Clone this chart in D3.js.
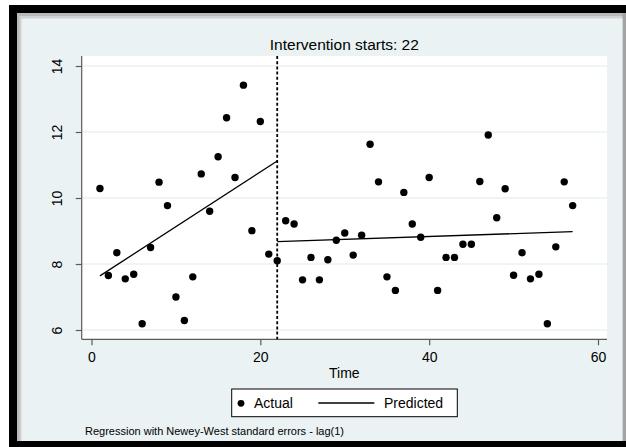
<!DOCTYPE html>
<html>
<head>
<meta charset="utf-8">
<script src="https://cdn.jsdelivr.net/npm/d3@7"></script>
<style>
  html, body { margin: 0; padding: 0; background: #ffffff; }
  svg { display: block; font-family: "Liberation Sans", Arial, Helvetica, sans-serif; }
</style>
</head>
<body>
<svg id="chart" width="626" height="447"></svg>
<script>
// Observed outcome by time period
const times = d3.range(1, 58);
const actual = [
  10.29, 7.65, 8.34, 7.55, 7.69, 6.19, 8.50, 10.48, 9.77, 7.00,
  6.29, 7.61, 10.73, 9.60, 11.25, 12.43, 10.62, 13.42, 9.01, 12.32,
  8.30, 8.10, 9.31, 9.21, 7.52, 8.20, 7.52, 8.13, 8.72, 8.94,
  8.27, 8.87, 11.63, 10.49, 7.61, 7.20, 10.17, 9.21, 8.81, 10.62,
  7.20, 8.20, 8.20, 8.60, 8.60, 10.50, 11.91, 9.40, 10.28, 7.66,
  8.34, 7.55, 7.69, 6.19, 8.52, 10.49, 9.77
];

// Fitted segments (time, predicted) before and after the intervention
const predictedPre = [[1, 7.64], [22, 11.12]];
const predictedPost = [[22, 8.68], [57, 8.98]];

const interventionTime = 22;
const xTicks = [0, 20, 40, 60];
const yTicks = [6, 8, 10, 12, 14];

const titleText = "Intervention starts: " + interventionTime;
const xLabel = "Time";
const legendLabels = ["Actual", "Predicted"];
const noteText = "Regression with Newey-West standard errors - lag(1)";

const svg = d3.select("#chart");

// Window frame and graph region
svg.append("rect").attr("x", 9).attr("y", 5).attr("width", 617).attr("height", 442).attr("fill", "#000");
svg.append("rect").attr("x", 17).attr("y", 13).attr("width", 609).attr("height", 428).attr("fill", "#b9b9b9");
svg.append("rect").attr("x", 19.5).attr("y", 16).attr("width", 606).attr("height", 425).attr("fill", "#d2d2d2");
svg.append("rect").attr("x", 622.5).attr("y", 13).attr("width", 3.5).attr("height", 428).attr("fill", "#a3a3a3");
svg.append("rect").attr("x", 21.5).attr("y", 18.5).attr("width", 601).attr("height", 422.5).attr("fill", "#eaf2f3");

// Plot region
const plot = { left: 81.7, right: 607, top: 56, bottom: 339.3 };
svg.append("rect")
  .attr("x", plot.left).attr("y", plot.top)
  .attr("width", plot.right - plot.left).attr("height", plot.bottom - plot.top)
  .attr("fill", "#ffffff");

const x = d3.scaleLinear().domain([0, 60]).range([91.5, 598]);
const y = d3.scaleLinear().domain([6, 14]).range([330, 66]);

// Horizontal grid lines
svg.append("g").selectAll("line").data(yTicks).join("line")
  .attr("x1", plot.left).attr("x2", plot.right)
  .attr("y1", d => y(d)).attr("y2", d => y(d))
  .attr("stroke", "#eaf2f3").attr("stroke-width", 1.6);

// Axes
const yAxis = d3.axisLeft(y).tickValues(yTicks).tickSize(6).tickPadding(0).tickFormat(d3.format("d"));
const gy = svg.append("g").attr("transform", `translate(${plot.left},0)`).call(yAxis);
gy.select(".domain").attr("d", `M0,${plot.top}V${plot.bottom}`).attr("stroke", "#5a5a5a").attr("stroke-width", 1.2);
gy.selectAll(".tick line").attr("stroke", "#5a5a5a").attr("stroke-width", 1.2);
gy.selectAll(".tick text")
  .attr("x", 0).attr("y", 0).attr("dy", null)
  .attr("text-anchor", "middle")
  .attr("transform", "translate(-25,0) rotate(-90)")
  .attr("dominant-baseline", "central")
  .attr("fill", "#000").attr("font-size", 14).attr("font-family", "Liberation Sans, Arial, sans-serif");

const xAxis = d3.axisBottom(x).tickValues(xTicks).tickSize(6).tickPadding(7).tickFormat(d3.format("d"));
const gx = svg.append("g").attr("transform", `translate(0,${plot.bottom})`).call(xAxis);
gx.select(".domain").attr("d", `M${plot.left},0H${plot.right}`).attr("stroke", "#5a5a5a").attr("stroke-width", 1.2);
gx.selectAll(".tick line").attr("stroke", "#5a5a5a").attr("stroke-width", 1.2);
gx.selectAll(".tick text")
  .attr("fill", "#000").attr("font-size", 14).attr("font-family", "Liberation Sans, Arial, sans-serif");

// Intervention marker
svg.append("line")
  .attr("x1", x(interventionTime)).attr("x2", x(interventionTime))
  .attr("y1", plot.top).attr("y2", plot.bottom)
  .attr("stroke", "#000").attr("stroke-width", 1.8).attr("stroke-dasharray", "3,2.2");

// Predicted lines
const line = d3.line().x(d => x(d[0])).y(d => y(d[1]));
[predictedPre, predictedPost].forEach(seg => {
  svg.append("path").attr("d", line(seg))
    .attr("fill", "none").attr("stroke", "#000").attr("stroke-width", 1.3);
});

// Observed points
svg.append("g").selectAll("circle").data(times).join("circle")
  .attr("cx", (d) => x(d))
  .attr("cy", (d, i) => y(actual[i]))
  .attr("r", 3.7).attr("fill", "#000");

// Title
svg.append("text").attr("x", (plot.left + plot.right) / 2).attr("y", 50)
  .attr("text-anchor", "middle").attr("font-size", 15.5).attr("fill", "#000")
  .text(titleText);

// X axis title
svg.append("text").attr("x", (plot.left + plot.right) / 2).attr("y", 378)
  .attr("text-anchor", "middle").attr("font-size", 14).attr("fill", "#000")
  .text(xLabel);

// Legend
const lg = svg.append("g");
lg.append("rect").attr("x", 231.7).attr("y", 389).attr("width", 225.6).attr("height", 27.7)
  .attr("fill", "#fff").attr("stroke", "#000").attr("stroke-width", 1);
lg.append("circle").attr("cx", 241).attr("cy", 403.3).attr("r", 3.4).attr("fill", "#000");
lg.append("text").attr("x", 254).attr("y", 408.3).attr("font-size", 14).attr("fill", "#000").text(legendLabels[0]);
lg.append("line").attr("x1", 318.3).attr("x2", 374.3).attr("y1", 403).attr("y2", 403)
  .attr("stroke", "#000").attr("stroke-width", 1.3);
lg.append("text").attr("x", 384).attr("y", 408.3).attr("font-size", 14).attr("fill", "#000").text(legendLabels[1]);

// Note
svg.append("text").attr("x", 85).attr("y", 435).attr("font-size", 11).attr("fill", "#000").text(noteText);
</script>
</body>
</html>
